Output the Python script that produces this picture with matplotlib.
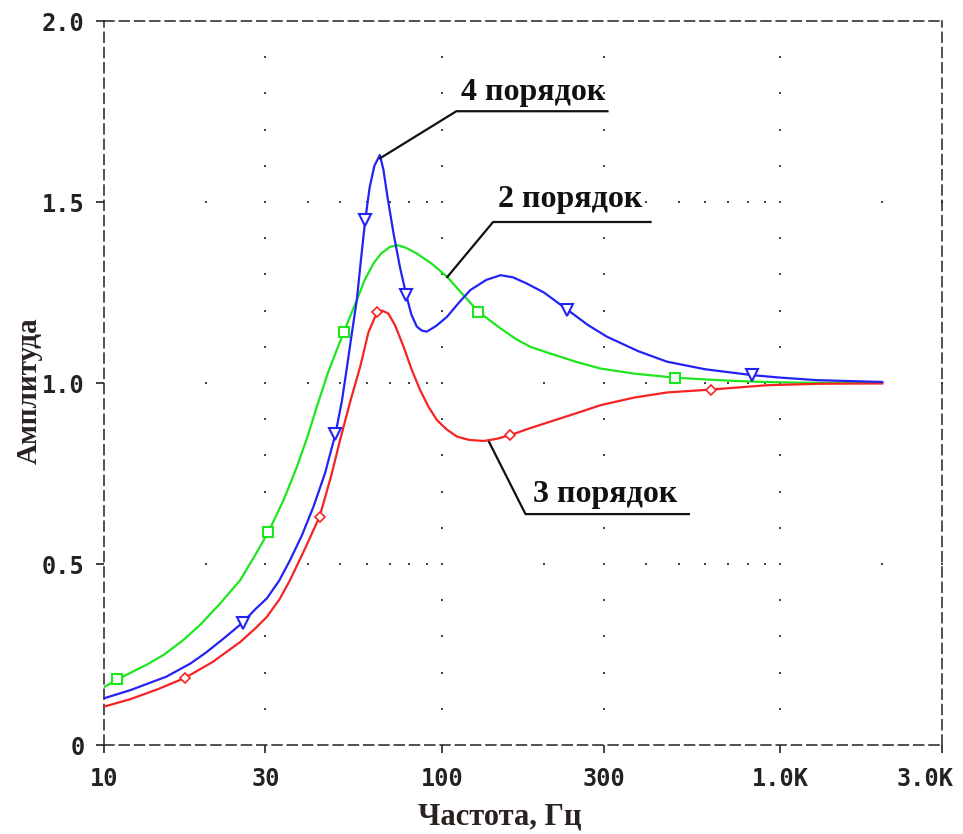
import numpy as np
import matplotlib.pyplot as plt
import matplotlib.transforms as mtransforms

# ---- data (frequency, Hz / amplitude) ----
green_x = [10.0, 10.95, 12.0, 13.5, 15.0, 17.0, 19.2, 22.0, 25.3, 28.0, 30.6, 34.0, 37.2, 40.0,
           42.6, 46.0, 51.2, 55.9, 59.0, 62.7, 66.0, 70.0, 73.7, 78.0, 84.1, 93.0, 103.3, 115.0,
           127.9, 148.8, 165.0, 182.3, 208.0, 250.0, 294.0, 370.0, 487.0, 600.0, 726.0, 900.0,
           1144.0, 2000.0]
green_y = [0.160, 0.181, 0.200, 0.224, 0.249, 0.287, 0.331, 0.390, 0.456, 0.525, 0.588, 0.678, 0.769, 0.853,
           0.935, 1.030, 1.142, 1.229, 1.285, 1.331, 1.358, 1.376, 1.381, 1.374, 1.358, 1.330, 1.294, 1.245,
           1.197, 1.151, 1.122, 1.100, 1.082, 1.058, 1.040, 1.026, 1.015, 1.010, 1.006, 1.003,
           1.001, 1.000]

blue_x = [10.0, 12.0, 15.3, 18.0, 20.0, 22.5, 25.7, 28.0, 30.3, 33.0, 35.5, 38.5, 41.6, 45.0,
          48.3, 50.5, 52.3, 54.0, 55.9, 57.5, 59.2, 61.0, 63.0, 65.4, 67.0, 69.0, 71.8, 75.0,
          78.3, 81.0, 84.1, 87.0, 90.0, 96.0, 103.3, 112.0, 121.1, 135.0, 148.8, 162.0, 177.8,
          200.0, 234.1, 270.0, 307.0, 380.0, 462.0, 600.0, 823.0, 1000.0, 1283.0, 2000.0]
blue_y = [0.129, 0.152, 0.189, 0.225, 0.255, 0.293, 0.338, 0.375, 0.405, 0.455, 0.511, 0.580, 0.658, 0.750,
          0.858, 0.950, 1.045, 1.135, 1.229, 1.340, 1.450, 1.540, 1.600, 1.630, 1.590, 1.510, 1.413, 1.320,
          1.243, 1.190, 1.156, 1.145, 1.142, 1.158, 1.183, 1.222, 1.257, 1.285, 1.298, 1.292, 1.275,
          1.250, 1.203, 1.160, 1.128, 1.088, 1.059, 1.038, 1.022, 1.015, 1.008, 1.003]

red_x = [10.0, 12.0, 14.5, 17.4, 21.0, 25.3, 28.0, 30.3, 33.0, 35.5, 39.0, 43.4, 47.0, 49.9,
         53.5, 57.2, 60.5, 64.2, 66.5, 69.3, 72.5, 76.9, 81.0, 86.0, 91.0, 96.4, 103.0, 110.6,
         120.0, 132.8, 145.0, 158.8, 180.0, 208.0, 250.0, 294.0, 370.0, 462.0, 623.0, 912.0,
         1300.0, 2000.0]
red_y = [0.106, 0.127, 0.155, 0.186, 0.230, 0.285, 0.322, 0.354, 0.402, 0.456, 0.536, 0.631, 0.745, 0.843,
         0.950, 1.045, 1.140, 1.196, 1.200, 1.192, 1.160, 1.100, 1.040, 0.981, 0.935, 0.898, 0.872, 0.852,
         0.843, 0.840, 0.846, 0.856, 0.874, 0.893, 0.917, 0.939, 0.960, 0.974, 0.982, 0.994,
         0.998, 0.999]

# marker positions
green_mx = [10.95, 30.6, 51.2, 127.9, 487.0]
green_my = [0.181, 0.588, 1.142, 1.197, 1.015]
blue_mx = [25.7, 48.3, 59.2, 78.3, 234.1, 823.0]
blue_my = [0.338, 0.858, 1.450, 1.243, 1.203, 1.022]
red_mx = [17.4, 43.4, 64.2, 158.8, 623.0]
red_my = [0.186, 0.631, 1.196, 0.856, 0.982]

x_ticks = [10, 30, 100, 300, 1000, 3000]
x_tick_labels = ['10', '30', '100', '300', '1.0K', '3.0K']
y_ticks = [0, 0.5, 1.0, 1.5, 2.0]
y_tick_labels = ['0', '0.5', '1.0', '1.5', '2.0']

# annotations: label, text pos, leader tip, corner, underline end
labels = ['4 порядок', '2 порядок', '3 порядок']
label_text_xy = [(186.0, 1.804), (239.0, 1.506), (303.6, 0.691)]
label_tip_xy = [(65.5, 1.621), (103.5, 1.293), (137.6, 0.837)]
label_corner_xy = [(110.1, 1.751), (141.4, 1.445), (176.3, 0.638)]
label_end_x = [308.0, 413.0, 536.0]

GREEN = '#1ee61e'
BLUE = '#2323f5'
RED = '#f52323'

fig = plt.figure(figsize=(9.63, 8.34), dpi=100)
ax = fig.add_axes([0.108, 0.1067, 0.870, 0.868])
ax.set_xscale('log')
ax.set_xlim(10, 3000)
ax.set_ylim(0, 2.0)

# dotted grid (dots at minor log positions on horizontal lines, 0.1 steps on vertical lines)
dot_x = [k * 10 ** d for d in range(1, 4) for k in range(1, 10) if 10 < k * 10 ** d <= 3000]
hx, hy = [], []
for yv in [0.5, 1.0, 1.5]:
    hx += dot_x
    hy += [yv] * len(dot_x)
for xv in [30, 100, 300, 1000]:
    ys = [i / 10 for i in range(1, 20)]
    hx += [xv] * len(ys)
    hy += ys
ax.scatter(hx, hy, s=2.5, marker='s', color='#444444', linewidths=0, zorder=1)

ax.plot(green_x, green_y, color=GREEN, lw=1.6, zorder=3)
ax.plot(red_x, red_y, color=RED, lw=1.6, zorder=3)
ax.plot(blue_x, blue_y, color=BLUE, lw=1.6, zorder=4)

ax.plot(green_mx, green_my, ls='none', marker='s', ms=7, mfc='white', mec=GREEN, mew=1.5, zorder=5)
ax.plot(red_mx, red_my, ls='none', marker='D', ms=5.5, mfc='white', mec=RED, mew=1.2, zorder=5)
ax.plot(blue_mx, blue_my, ls='none', marker='v', ms=8, mfc='white', mec=BLUE, mew=1.5, zorder=5)

# annotations
for lab, txy, tip, corner, xe in zip(labels, label_text_xy, label_tip_xy, label_corner_xy, label_end_x):
    ax.plot([tip[0], corner[0], xe], [tip[1], corner[1], corner[1]], color='#111111', lw=1.6, zorder=6)
    ax.text(txy[0], txy[1], lab, ha='center', va='center', fontsize=23, fontweight='bold',
            family='Liberation Serif', color='#111111', zorder=7)

# frame and ticks
for sp in ax.spines.values():
    sp.set_linestyle((0, (6.5, 3.5)))
    sp.set_linewidth(1.1)
    sp.set_color('#222222')

ax.xaxis.set_minor_locator(plt.NullLocator())
ax.set_xticks(x_ticks)
ax.set_xticklabels(x_tick_labels)
ax.set_yticks(y_ticks)
ax.set_yticklabels(y_tick_labels)
ax.tick_params(direction='out', length=6, width=1.2, color='#222222', labelsize=17,
               labelcolor='#222222')
ax.tick_params(axis='x', pad=10)
ax.tick_params(axis='y', pad=8)
for t in ax.get_xticklabels() + ax.get_yticklabels():
    t.set_family('DejaVu Sans Mono')
    t.set_fontweight('bold')
# pull the last x label in so it stays inside the figure
last = ax.get_xticklabels()[-1]
last.set_transform(last.get_transform() + mtransforms.ScaledTranslation(-12 / 72, 0, fig.dpi_scale_trans))

ax.set_xlabel('Частота, Гц', fontsize=22, fontweight='bold', family='Liberation Serif',
              color='#2a2220')
ax.set_ylabel('Амплитуда', fontsize=21, fontweight='bold', family='Liberation Serif',
              color='#2a2220')
ax.xaxis.set_label_coords(0.4726, -0.08)
ax.yaxis.set_label_coords(-0.073, 0.49)

fig.savefig('out.png', dpi=100, facecolor='white')
